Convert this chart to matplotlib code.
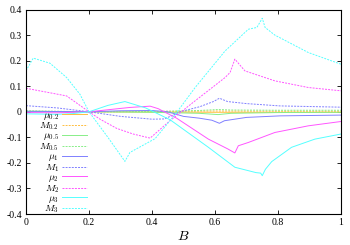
import matplotlib
matplotlib.use("Agg")
import matplotlib.pyplot as plt

# values (B on x, quantity on y)
mu02_B = [0, 0.2, 0.4, 0.6, 0.8, 1.0]
mu02 = [0.001, 0.0, -0.001, -0.002, -0.002, -0.002]
M02_B = [0, 0.2, 0.4, 0.6, 0.8, 1.0]
M02 = [0.002, 0.0, 0.001, 0.003, 0.002, 0.002]

mu05_B = [0, 0.2, 0.4, 0.55, 0.61, 0.65, 0.8, 1.0]
mu05 = [0.002, 0.0, -0.002, -0.006, -0.011, -0.006, -0.003, -0.002]
M05_B = [0, 0.2, 0.4, 0.55, 0.61, 0.65, 0.8, 1.0]
M05 = [0.004, 0.0, 0.001, 0.005, 0.009, 0.007, 0.006, 0.006]

mu1_B = [0, 0.2, 0.3, 0.4, 0.45, 0.5, 0.55, 0.59, 0.614, 0.63, 0.7, 0.806, 1.0]
mu1 = [0.002, 0.0, 0.004, 0.005, 0.0, -0.018, -0.025, -0.033, -0.045, -0.035, -0.022, -0.016, -0.013]
M1_B = [0, 0.1, 0.2, 0.3, 0.4, 0.44, 0.489, 0.552, 0.595, 0.614, 0.64, 0.7, 0.806, 1.0]
M1 = [0.024, 0.015, 0.0, -0.018, -0.029, -0.028, 0.0, 0.02, 0.04, 0.053, 0.04, 0.032, 0.023, 0.018]

mu2_B = [0, 0.1, 0.2, 0.276, 0.33, 0.394, 0.42, 0.478, 0.579, 0.64, 0.663, 0.674, 0.706, 0.79, 0.896, 1.0]
mu2 = [-0.003, -0.004, 0.0, 0.01, 0.017, 0.022, 0.012, -0.025, -0.107, -0.145, -0.161, -0.133, -0.12, -0.081, -0.055, -0.038]
M2_B = [0, 0.129, 0.2, 0.235, 0.288, 0.34, 0.394, 0.457, 0.537, 0.632, 0.648, 0.663, 0.695, 0.79, 0.896, 1.0]
M2 = [0.092, 0.062, 0.0, -0.029, -0.065, -0.087, -0.103, -0.035, 0.043, 0.134, 0.154, 0.206, 0.16, 0.121, 0.095, 0.082]

mu3_B = [0, 0.1, 0.15, 0.2, 0.26, 0.314, 0.38, 0.457, 0.473, 0.579, 0.663, 0.73, 0.745, 0.75, 0.76, 0.78, 0.843, 0.917, 1.0]
mu3 = [-0.008, -0.01, -0.007, 0.0, 0.025, 0.04, 0.015, -0.031, -0.045, -0.139, -0.217, -0.238, -0.24, -0.25, -0.225, -0.195, -0.139, -0.107, -0.087]
M3_B = [0, 0.023, 0.076, 0.129, 0.171, 0.2, 0.26, 0.314, 0.33, 0.41, 0.457, 0.48, 0.537, 0.632, 0.706, 0.733, 0.75, 0.759, 0.79, 0.896, 1.0]
M3 = [0.16, 0.21, 0.19, 0.134, 0.069, 0.0, -0.1, -0.194, -0.159, -0.105, -0.035, 0.0, 0.095, 0.238, 0.323, 0.33, 0.366, 0.33, 0.30, 0.232, 0.186]

series = [
    (mu02_B, mu02, r"$\mu_{0.2}$", "#ffbf40", "-"),
    (M02_B, M02, r"$M_{0.2}$", "#ffbf40", "--"),
    (mu05_B, mu05, r"$\mu_{0.5}$", "#88ee88", "-"),
    (M05_B, M05, r"$M_{0.5}$", "#88ee88", "--"),
    (mu1_B, mu1, r"$\mu_{1}$", "#8080ff", "-"),
    (M1_B, M1, r"$M_{1}$", "#8080ff", "--"),
    (mu2_B, mu2, r"$\mu_{2}$", "#ff55ff", "-"),
    (M2_B, M2, r"$M_{2}$", "#ff55ff", "--"),
    (mu3_B, mu3, r"$\mu_{3}$", "#55ffff", "-"),
    (M3_B, M3, r"$M_{3}$", "#55ffff", "--"),
]

plt.rcParams["font.family"] = "serif"
plt.rcParams["font.serif"] = ["Liberation Serif", "DejaVu Serif"]
plt.rcParams["mathtext.fontset"] = "cm"

fig = plt.figure(figsize=(3.5, 2.45), dpi=100)
ax = fig.add_axes([0.0743, 0.1265, 0.9, 0.8345])

for xs, ys, label, color, ls in series:
    line, = ax.plot(xs, ys, color=color, lw=0.7, label=label)
    if ls == "--":
        line.set_dashes((2, 1.2))

ax.set_xlim(0, 1)
ax.set_ylim(-0.4, 0.4)
xticks = [0, 0.2, 0.4, 0.6, 0.8, 1]
yticks = [-0.4, -0.3, -0.2, -0.1, 0, 0.1, 0.2, 0.3, 0.4]
ax.set_xticks(xticks)
ax.set_xticklabels(["0", "0.2", "0.4", "0.6", "0.8", "1"])
ax.set_yticks(yticks)
ax.set_yticklabels(["-0.4", "-0.3", "-0.2", "-0.1", "0", "0.1", "0.2", "0.3", "0.4"])
ax.tick_params(direction="in", top=True, right=True, length=3, width=0.6,
               labelsize=7, pad=3)
for sp in ax.spines.values():
    sp.set_linewidth(0.8)
ax.set_xlabel("$B$", fontsize=10, labelpad=2)

ax.legend(loc="upper right", bbox_to_anchor=(0.194, 0.505), frameon=False,
          markerfirst=False, fontsize=7, handlelength=2.6, handletextpad=0.3,
          labelspacing=-0.1, borderpad=0, borderaxespad=0)

fig.savefig("out.png", dpi=100)
